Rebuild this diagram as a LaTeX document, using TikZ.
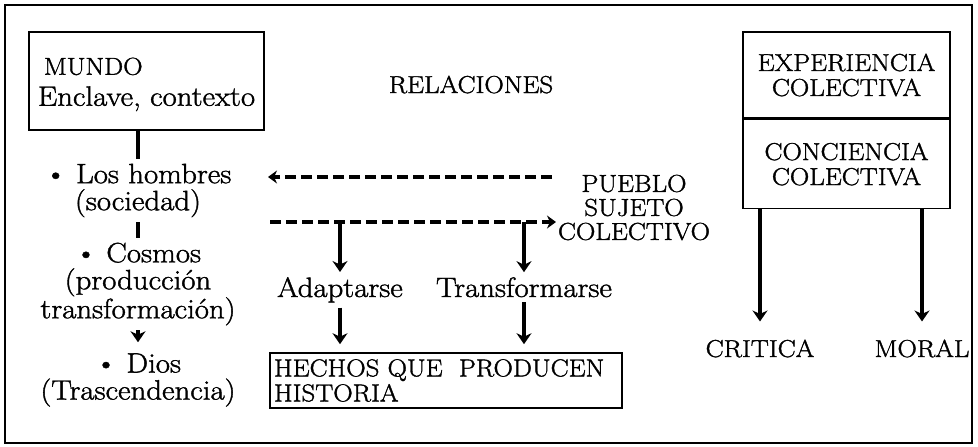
\documentclass[tikz,border=0pt]{standalone}
\usepackage{fontspec}
\setmainfont{Latin Modern Roman}[FakeStretch=1.1, FakeBold=1.4]
\usetikzlibrary{arrows.meta,positioning}

\tikzset{
    txt/.style={inner xsep=0pt, inner ysep=5pt, align=center, font=\fontsize{28}{27}\selectfont},
    caps/.style={inner xsep=0pt, inner ysep=5pt, align=center, font=\fontsize{24.5}{25}\selectfont},
    box/.style={draw, line width=1.6pt, inner sep=0pt},
    link/.style={line width=4pt},
    flow/.style={line width=4pt, -{Stealth[length=11pt,width=15pt]}},
    dashflow/.style={line width=3.5pt, dash pattern=on 11pt off 5pt, -{Stealth[length=9pt,width=13pt]}}
}

\begin{document}
\begin{tikzpicture}[x=1pt, y=-1pt]
    \useasboundingbox (0,0) rectangle (978,447);
    \draw[line width=1.6pt] (5,5) rectangle (972,443);

    % left column
    \node[box, txt, align=left, minimum width=235, minimum height=98] (mundo) at (146.5,81)
        {\rule{0pt}{24pt}\hspace*{6pt}{\fontsize{24.5}{27}\selectfont MUNDO}\\[4pt]Enclave, contexto};
    \node[txt] (hombres) at (138,190.5) {\textbullet\ Los hombres\\(sociedad)};
    \node[txt] (cosmos) at (138,284) {\textbullet\ Cosmos\\(producción\\transformación)};
    \node[txt] (dios) at (138,380) {\textbullet\ Dios\\(Trascendencia)};

    \draw[link] (mundo.south -| hombres.north) -- (hombres.north);
    \draw[link] (hombres.south) -- (cosmos.north);
    \draw[flow, shorten >=6pt] (cosmos.south) -- (dios.north);

    % middle
    \node[caps, anchor=base] (relac) at (471,93) {RELACIONES};
    \node[caps, font=\fontsize{24.5}{24}\selectfont] (pueblo) at (634,207.5) {PUEBLO\\SUJETO\\COLECTIVO};

    \coordinate (uR) at (552,177);
    \coordinate (uL) at (268,177);
    \coordinate (sL) at (270,222);
    \coordinate (sR) at (556,222);
    \draw[dashflow] (uR) -- (uL);
    \draw[dashflow] (sL) -- (sR);

    \node[txt, anchor=base] (adapt) at (340,297) {Adaptarse};
    \node[txt, anchor=base] (transf) at (524,297) {Transformarse};
    \node[box, caps, align=left, text width=344, inner xsep=4pt, inner ysep=0pt,
        minimum width=352, minimum height=55] (hechos) at (446,380.5)
        {HECHOS QUE \ PRODUCEN\\HISTORIA};

    \foreach \n in {adapt, transf} {
        \draw[flow] (\n.north |- sL) -- (\n.north);
        \draw[flow, shorten >=8pt] (\n.south) -- (\n.south |- hechos.north);
    }

    % right column
    \node[box, caps, minimum width=207, minimum height=86] (exper) at (846.5,75)
        {EXPERIENCIA\\COLECTIVA};
    \node[box, caps, minimum width=207, minimum height=89, below=0pt of exper] (concien)
        {CONCIENCIA\\COLECTIVA};

    \node[caps, anchor=base] (critica) at (760,357) {CRITICA};
    \node[caps, anchor=base] (moral) at (922,357) {MORAL};

    \foreach \n in {critica, moral}
        \draw[flow, shorten >=13pt] (\n.north |- concien.south) -- (\n.north);
\end{tikzpicture}
\end{document}
